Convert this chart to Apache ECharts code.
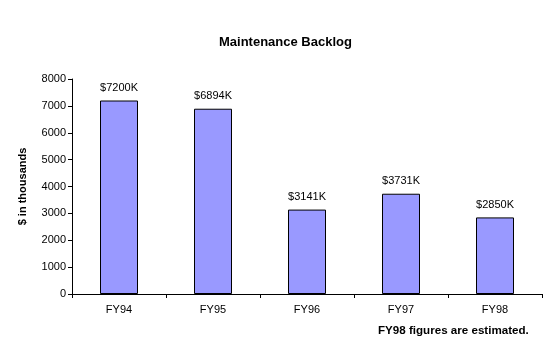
<!DOCTYPE html>
<html><head><meta charset="utf-8">
<script src="https://cdn.jsdelivr.net/npm/echarts@6/dist/echarts.min.js"></script>
<style>html,body{margin:0;padding:0;background:#fff}#c{width:556px;height:357px}</style>
</head><body><div id="c"></div>
<script>
const categories = ['FY94','FY95','FY96','FY97','FY98'];
const values = [7200, 6894, 3141, 3731, 2850];
const titleText = 'Maintenance Backlog';
const yAxisName = '$ in thousands';
const footnote = 'FY98 figures are estimated.';
const font = '"Liberation Sans", Arial, sans-serif';
const chart = echarts.init(document.getElementById('c'));
chart.setOption({
  animation: false,
  backgroundColor: '#fff',
  grid: {left: 72, right: 14, top: 79, bottom: 63},
  graphic: [
    {type: 'text', left: 219, top: 36, style: {text: titleText, font: 'bold 13px ' + font, fill: '#000'}},
    {type: 'text', left: 378, top: 325, style: {text: footnote, font: 'bold 11.6px ' + font, fill: '#000'}}
  ],
  xAxis: {
    type: 'category', data: categories,
    axisLine: {lineStyle: {color: '#000', width: 1}},
    axisTick: {show: true, length: 4, lineStyle: {color: '#000'}},
    axisLabel: {color: '#000', fontFamily: font, fontSize: 11, margin: 10}
  },
  yAxis: {
    type: 'value', min: 0, max: 8000, interval: 1000,
    name: yAxisName, nameLocation: 'middle', nameGap: 44,
    nameTextStyle: {color: '#000', fontFamily: font, fontSize: 11, fontWeight: 'bold'},
    axisLine: {show: true, lineStyle: {color: '#000', width: 1}},
    axisTick: {show: true, length: 4, lineStyle: {color: '#000'}},
    splitLine: {show: false},
    axisLabel: {color: '#000', fontFamily: font, fontSize: 11, margin: 6, formatter: v => String(v)}
  },
  series: [{
    type: 'bar', data: values, barWidth: 38,
    itemStyle: {color: '#9999FF', borderColor: '#000', borderWidth: 1},
    label: {show: true, position: 'top', distance: 7, color: '#000', fontFamily: font, fontSize: 11,
      formatter: p => '$' + p.value + 'K'}
  }]
});
</script></body></html>
